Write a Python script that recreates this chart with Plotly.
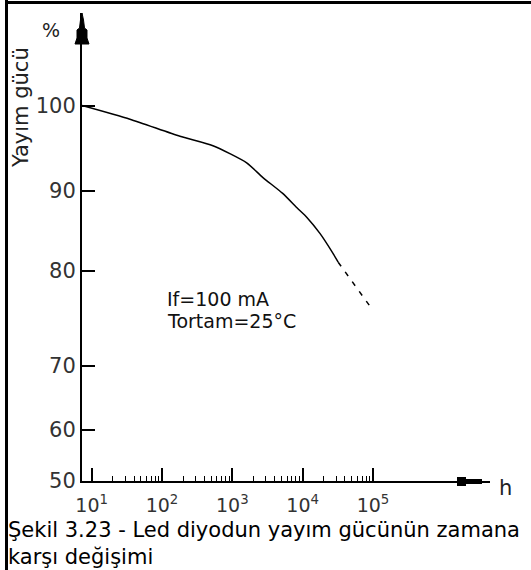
import numpy as np
import plotly.graph_objects as go

# ---------------- data ----------------
hours_solid = [7.3, 35, 180, 530, 1600, 2700, 5200, 8300, 11500, 17600, 27000, 32000]
power_solid = [100.0, 98.4, 96.4, 95.3, 93.3, 91.6, 89.7, 87.9, 86.7, 84.7, 82.2, 81.1]
hours_dashed = [32000, 90000]
power_dashed = [81.1, 76.3]

y_tick_labels = [50, 60, 70, 80, 90, 100]
x_tick_values = [1e1, 1e2, 1e3, 1e4, 1e5]
x_tick_labels = ["10<sup>1</sup>", "10<sup>2</sup>", "10<sup>3</sup>", "10<sup>4</sup>", "10<sup>5</sup>"]

# ---------------- layout constants ----------------
W, H = 531, 570
L, R, T, B = 82, 41, 13, 89
PW, PH = W - L - R, H - T - B
FONT = "DejaVu Sans"

# the hand-drawn vertical scale is not linear: drawn position of each tick label
Y_AXIS_POS = [0, 51.5, 115.5, 210, 290, 375.5]


def ymap(vals):
    return np.interp(vals, y_tick_labels, Y_AXIS_POS)


def px(x):
    return (x - L) / PW


def py(y):
    return (H - B - y) / PH


x_range = [0.8625, 6.664]
minor_vals = [m * 10 ** k for k in range(1, 5) for m in range(2, 10)]

fig = go.Figure()
fig.add_trace(go.Scatter(x=hours_solid, y=ymap(power_solid), mode="lines",
                         line=dict(color="black", width=1.5, shape="spline", smoothing=0.6),
                         showlegend=False, hoverinfo="skip"))
fig.add_trace(go.Scatter(x=hours_dashed, y=ymap(power_dashed), mode="lines",
                         line=dict(color="black", width=1.5, dash="5px,7px"),
                         showlegend=False, hoverinfo="skip"))

shapes = []
# frame (left and top borders of the scanned figure)
shapes.append(dict(type="rect", xref="paper", yref="paper", x0=px(5), x1=px(8), y0=py(0), y1=py(H),
                   fillcolor="black", line=dict(width=0), layer="above"))
shapes.append(dict(type="rect", xref="paper", yref="paper", x0=px(5), x1=px(W), y0=py(1), y1=py(4),
                   fillcolor="black", line=dict(width=0), layer="above"))
# y-axis arrow head
arrow_pts = [(82, 13), (83.5, 20), (84.5, 28), (87, 30), (87, 38), (89, 44),
             (75, 44), (77, 38), (77, 30), (79.5, 28), (80.5, 20)]
path = "M " + " L ".join(f"{px(a):.5f},{py(b):.5f}" for a, b in arrow_pts) + " Z"
shapes.append(dict(type="path", xref="paper", yref="paper", path=path,
                   fillcolor="black", line=dict(color="black", width=1), layer="above"))
# x-axis arrow head
shapes.append(dict(type="rect", xref="paper", yref="paper", x0=px(457), x1=px(466), y0=py(486), y1=py(477),
                   fillcolor="black", line=dict(width=0), layer="above"))
shapes.append(dict(type="rect", xref="paper", yref="paper", x0=px(466), x1=px(482), y0=py(484), y1=py(479),
                   fillcolor="black", line=dict(width=0), layer="above"))


def ann(text, x, y, size, xanchor="center", color="#222", angle=0):
    return dict(text=text, x=px(x), y=py(y), xref="paper", yref="paper", showarrow=False,
                xanchor=xanchor, yanchor="middle", textangle=angle,
                font=dict(family=FONT, size=size, color=color))


annotations = [
    ann("%", 51, 30, 19),
    ann("Yayım gücü", 21, 108, 21, angle=-90),
    ann("h", 505, 488, 21),
    ann("If=100 mA", 165, 299, 19, xanchor="left", color="#111"),
    ann("Tortam=25°C", 165, 321, 19, xanchor="left", color="#111"),
    ann("Şekil 3.23 - Led diyodun yayım gücünün zamana", 6, 530, 21, xanchor="left", color="black"),
    ann("karşı değişimi", 6, 557, 21, xanchor="left", color="black"),
]

fig.update_layout(
    width=W, height=H, autosize=False,
    margin=dict(l=L, r=R, t=T, b=B, pad=0),
    paper_bgcolor="white", plot_bgcolor="white",
    shapes=shapes, annotations=annotations,
    xaxis=dict(type="log", range=x_range, showgrid=False, zeroline=False,
               showline=True, linecolor="black", linewidth=2,
               tickmode="array", tickvals=x_tick_values, ticktext=x_tick_labels,
               ticks="inside", ticklen=13, tickwidth=1.5, tickcolor="black",
               ticklabelposition="outside", ticklabelstandoff=6,
               tickfont=dict(family=FONT, size=19, color="#333"),
               minor=dict(tickmode="array", tickvals=minor_vals, ticks="inside",
                          ticklen=5, tickwidth=1.3, tickcolor="black", showgrid=False)),
    yaxis=dict(range=[0, PH], showgrid=False, zeroline=False,
               showline=True, linecolor="black", linewidth=2,
               tickmode="array", tickvals=Y_AXIS_POS, ticktext=[str(v) for v in y_tick_labels],
               ticks="inside", ticklen=13, tickwidth=1.5, tickcolor="black",
               tickfont=dict(family=FONT, size=21, color="#333")),
)

fig.write_html("out.html", config={"displayModeBar": False},
               post_script="document.body.style.margin='0';document.body.style.overflow='hidden';")
